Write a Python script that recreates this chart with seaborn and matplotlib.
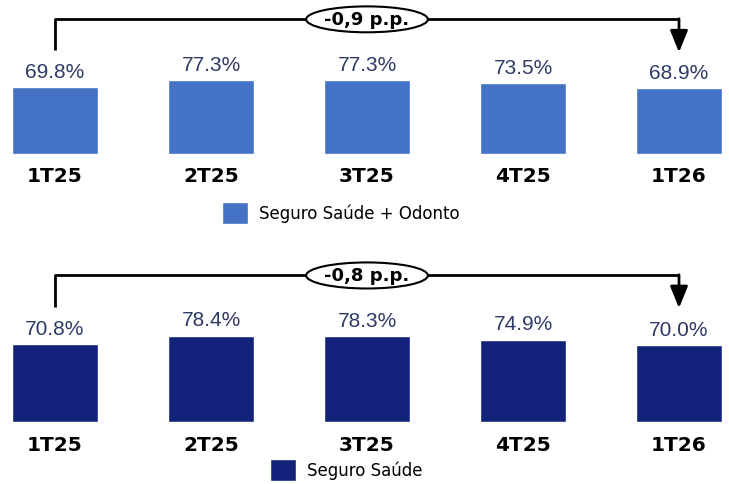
import matplotlib
matplotlib.use("Agg")
import matplotlib.pyplot as plt
from matplotlib.patches import Ellipse
import seaborn as sns
import pandas as pd

quarters = ["1T25", "2T25", "3T25", "4T25", "1T26"]
odonto_values = [69.8, 77.3, 77.3, 73.5, 68.9]
saude_values = [70.8, 78.4, 78.3, 74.9, 70.0]
series_names = ["Seguro Saúde + Odonto", "Seguro Saúde"]
delta_labels = ["-0,9 p.p.", "-0,8 p.p."]
colors = ["#4472C4", "#13227A"]

sns.set_theme(style="white")
plt.rcParams["font.family"] = ["DejaVu Sans"]

W, H = 729, 485
fig = plt.figure(figsize=(W / 100, H / 100), dpi=100)
fig.patch.set_facecolor("white")

ax_top = fig.add_axes([0, 330 / H, 1, 155 / H])
ax_bot = fig.add_axes([0, 61.7 / H, 1, 178.3 / H])

panels = [
    (ax_top, odonto_values, series_names[0], colors[0], delta_labels[0],
     dict(line_y=140.3, left_y=108.0, tip_y=106.0, ell_h=27.0),
     (222 / W, 214)),
    (ax_bot, saude_values, series_names[1], colors[1], delta_labels[1],
     dict(line_y=133.0, left_y=104.8, tip_y=103.5, ell_h=23.6),
     (270 / W, 471)),
]

for ax, vals, name, col, dlabel, br, leg in panels:
    df = pd.DataFrame({"quarter": quarters, "value": vals, "series": [name] * len(vals)})
    sns.barplot(data=df, x="quarter", y="value", hue="series", palette=[col],
                width=0.55, ax=ax, legend=True, saturation=1)
    ax.set_xlim(-55 / 156, 674 / 156)
    ax.set_ylim(0, 161.5)
    ax.set_xlabel("")
    ax.set_ylabel("")
    ax.set_yticks([])
    for s in ax.spines.values():
        s.set_visible(False)
    ax.set_facecolor("none")
    ax.tick_params(axis="x", length=0, pad=9)
    for lab in ax.get_xticklabels():
        lab.set_fontsize(14.5)
        lab.set_fontweight("heavy")
        lab.set_color("black")

    for cont in ax.containers:
        ax.bar_label(cont, fmt="{:.1f}%", padding=4.5, fontsize=15,
                     color="#2D3A66", family=["Liberation Sans", "DejaVu Sans"])

    x0, x1 = 0, len(quarters) - 1
    ax.plot([x0, x0, x1], [br["left_y"], br["line_y"], br["line_y"]],
            color="black", lw=2, clip_on=False, solid_capstyle="butt", zorder=3)
    ax.annotate("", xy=(x1, br["tip_y"]), xytext=(x1, br["line_y"] + 0.6),
                arrowprops=dict(arrowstyle="-|>,head_length=1.1,head_width=0.45",
                                lw=2, color="black", shrinkA=0, shrinkB=0),
                annotation_clip=False, zorder=3)
    ell = Ellipse(((x0 + x1) / 2, br["line_y"]), width=0.78, height=br["ell_h"],
                  facecolor="white", edgecolor="black", lw=1.5, clip_on=False, zorder=4)
    ax.add_patch(ell)
    ax.text((x0 + x1) / 2, br["line_y"], dlabel, ha="center", va="center",
            fontsize=13, fontweight="heavy", color="black", zorder=5)

    handles, labels = ax.get_legend_handles_labels()
    if ax.get_legend() is not None:
        ax.get_legend().remove()
    lg = ax.legend(handles, labels, loc="center left",
                   bbox_to_anchor=(leg[0], 1 - leg[1] / H), bbox_transform=fig.transFigure,
                   frameon=False, fontsize=12, handlelength=1.56, handleheight=1.6,
                   handletextpad=0.65, borderpad=0, borderaxespad=0)
    for t in lg.get_texts():
        t.set_color("black")

fig.savefig("out.png", dpi=100, facecolor="white")
